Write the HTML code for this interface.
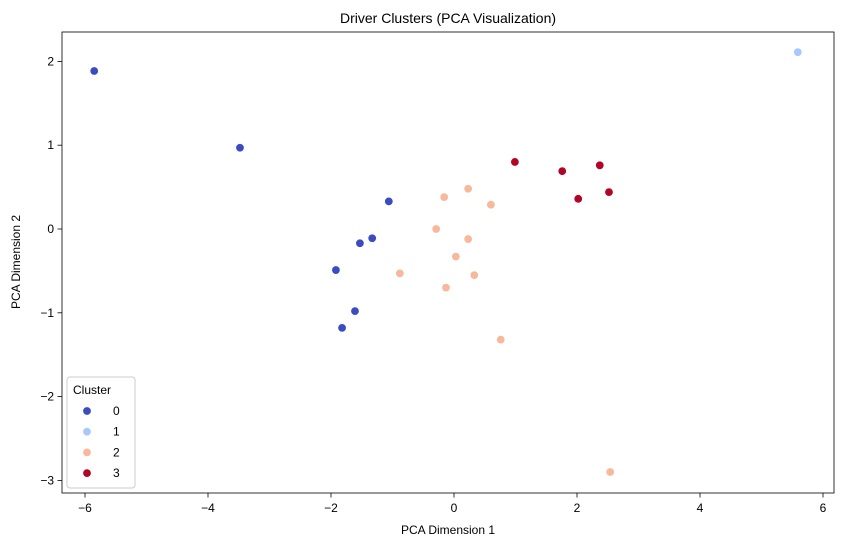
<!DOCTYPE html>
<html><head><meta charset="utf-8"><style>
body{margin:0;background:#fff;}
svg{display:block;font-family:"Liberation Sans","DejaVu Sans",sans-serif;}
</style></head><body>
<svg id="chart" width="844" height="547">
<rect x="0" y="0" width="844" height="547" fill="#fff"/>
<text x="448" y="23" text-anchor="middle" font-size="14">Driver Clusters (PCA Visualization)</text>
<g id="ticks"></g>
<g id="points"></g>
<rect x="62" y="32" width="772" height="461" fill="none" stroke="#000" stroke-width="0.8"/>
<text x="448" y="534" text-anchor="middle" font-size="12">PCA Dimension 1</text>
<text x="20" y="262" text-anchor="middle" font-size="12" transform="rotate(-90 20 262)">PCA Dimension 2</text>
<g id="legend">
<rect x="67" y="377" width="68" height="111" rx="3" fill="#fff" fill-opacity="0.8" stroke="#ccc"/>
<text x="73" y="394" font-size="12">Cluster</text>
</g>
</svg>
<script>
const xTicks=[-6,-4,-2,0,2,4,6];
const yTicks=[-3,-2,-1,0,1,2];
const clusterNames=["0","1","2","3"];
const clusterColors=["#3b4cc0","#aac7fd","#f7b89c","#b40426"];
const xs0=[-5.85,-3.48,-1.06,-1.53,-1.33,-1.92,-1.61,-1.82];
const ys0=[1.885,0.97,0.33,-0.17,-0.11,-0.49,-0.98,-1.18];
const xs1=[5.59];
const ys1=[2.11];
const xs2=[-0.16,0.23,0.60,-0.29,0.23,0.03,-0.88,0.33,-0.13,0.76,2.54];
const ys2=[0.38,0.48,0.29,0.0,-0.12,-0.33,-0.53,-0.55,-0.70,-1.32,-2.90];
const xs3=[0.99,1.76,2.37,2.02,2.52];
const ys3=[0.80,0.69,0.76,0.36,0.44];
const series=[[xs0,ys0],[xs1,ys1],[xs2,ys2],[xs3,ys3]];
const NS="http://www.w3.org/2000/svg";
function sx(v){return 454+v*61.5;}
function sy(v){return 229-v*83.8;}
const tg=document.getElementById('ticks');
function mk(t,a,p){const e=document.createElementNS(NS,t);for(const k in a)e.setAttribute(k,a[k]);p.appendChild(e);return e;}
xTicks.forEach(v=>{
 const x=sx(v);
 const l=mk('line',{x1:x,x2:x,y1:493,y2:497.5,stroke:'#000','stroke-width':0.8},tg);
 
 
 const t=mk('text',{x:x,y:512,'text-anchor':'middle','font-size':12},tg);
 t.textContent=v<0?'\u2212'+(-v):v;
 
 
});
yTicks.forEach(v=>{
 const y=sy(v);
 const l=mk('line',{x1:57.5,x2:62,y1:y,y2:y,stroke:'#000','stroke-width':0.8},tg);
 
 
 const t=mk('text',{x:54,y:y+4,'text-anchor':'end','font-size':12},tg);
 t.textContent=v<0?'\u2212'+(-v):v;
 
 
});
const pg=document.getElementById('points');
series.forEach((s,ci)=>{
 s[0].forEach((xv,i)=>{
  const c=mk('circle',{cx:sx(xv),cy:sy(s[1][i]),r:4.2,fill:clusterColors[ci],stroke:'#fff','stroke-width':0.6},pg);
  
  
 });
});
const lg=document.getElementById('legend');
clusterNames.forEach((n,i)=>{
 const y=411+i*20.7;
 const c=mk('circle',{cx:87,cy:y,r:4.2,fill:clusterColors[i],stroke:'#fff','stroke-width':0.6},lg);
 
 
 const t=mk('text',{x:113,y:y+4,'font-size':12},lg);
 t.textContent=n;
 
 
});
</script>
</body></html>
